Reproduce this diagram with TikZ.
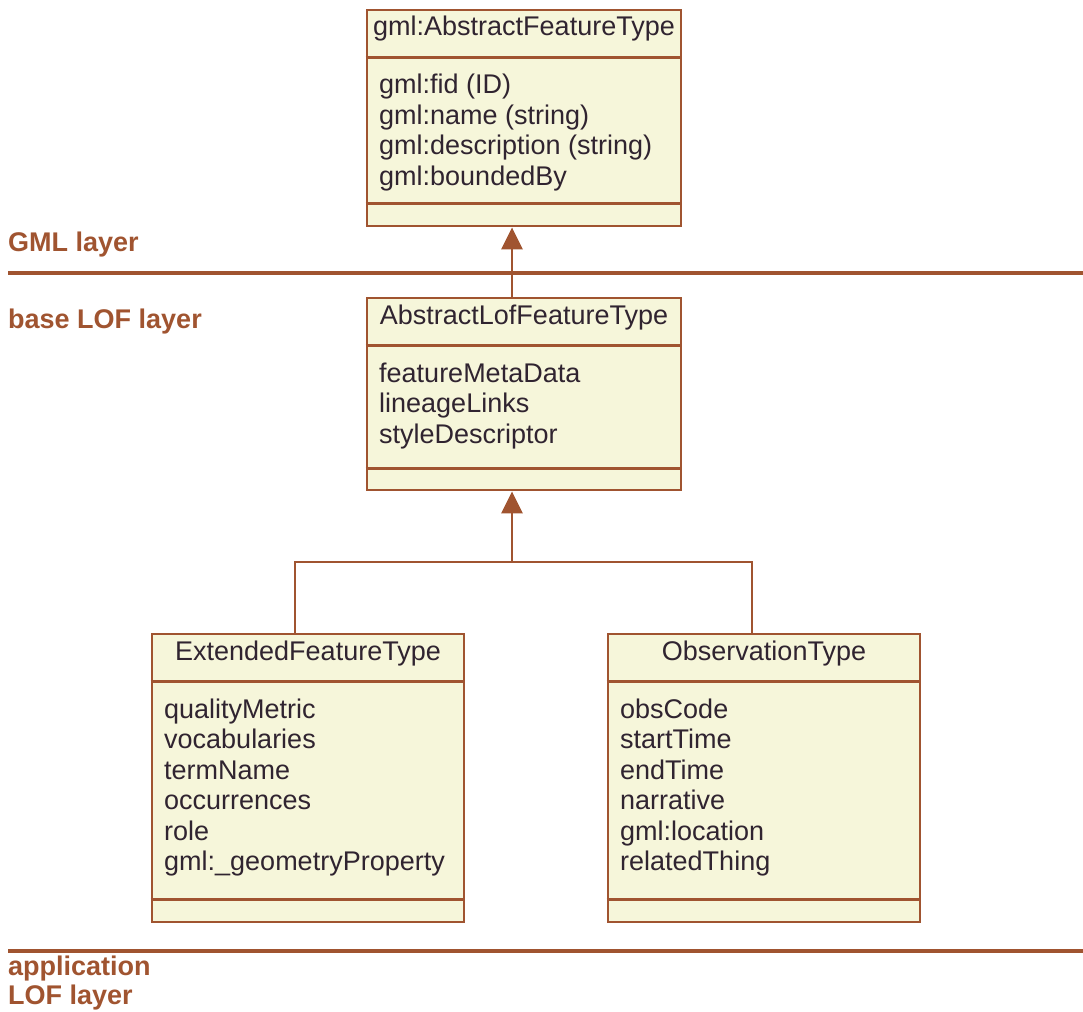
\documentclass[tikz,border=0pt]{standalone}
\usepackage{fontspec}
\setmainfont{Liberation Sans}
\usetikzlibrary{arrows.meta}
\definecolor{umlbrown}{RGB}{160,84,48}
\definecolor{umlfill}{RGB}{246,246,218}
\definecolor{umltext}{RGB}{48,36,48}
\tikzset{
  umlbox/.style={draw=umlbrown, fill=umlfill, line width=2.8pt, rectangle, inner sep=0pt},
  sep/.style={draw=umlbrown, line width=2.8pt},
  txt/.style={inner sep=0pt, text=umltext, font=\fontsize{27}{30.5}\selectfont},
  attr/.style={txt, anchor=base west},
  ttl/.style={txt, anchor=base},
  layer/.style={inner sep=0pt, anchor=base west, text=umlbrown, font=\fontsize{27}{30.5}\selectfont\bfseries},
  layerline/.style={draw=umlbrown, line width=3.5pt},
  conn/.style={draw=umlbrown, line width=2.8pt},
  inh/.style={conn, -{Triangle[width=21pt,length=22pt]}},
}
\begin{document}
\begin{tikzpicture}[x=1pt,y=-1pt]
\useasboundingbox (0,0) rectangle (1083,1011);
% boxes
\node[umlbox, minimum width=314pt, minimum height=216pt] (afeat) at (524,118) {};
\node[umlbox, minimum width=314pt, minimum height=192pt] (lof) at (524,394) {};
\node[umlbox, minimum width=312pt, minimum height=288pt] (ext) at (308,778) {};
\node[umlbox, minimum width=312pt, minimum height=288pt] (obs) at (764,778) {};
% separators
\draw[sep] ([yshift=-49pt]afeat.north west) -- ([yshift=-49pt]afeat.north east);
\draw[sep] ([yshift=24pt]afeat.south west) -- ([yshift=24pt]afeat.south east);
\draw[sep] ([yshift=-49pt]lof.north west) -- ([yshift=-49pt]lof.north east);
\draw[sep] ([yshift=23pt]lof.south west) -- ([yshift=23pt]lof.south east);
\draw[sep] ([yshift=-49pt]ext.north west) -- ([yshift=-49pt]ext.north east);
\draw[sep] ([yshift=24pt]ext.south west) -- ([yshift=24pt]ext.south east);
\draw[sep] ([yshift=-49pt]obs.north west) -- ([yshift=-49pt]obs.north east);
\draw[sep] ([yshift=24pt]obs.south west) -- ([yshift=24pt]obs.south east);
% titles
\node[ttl] (t1) at (524,36) {gml:AbstractFeatureType};
\node[ttl] (t2) at (524,324) {AbstractLofFeatureType};
\node[ttl] (t3) at (308,660) {ExtendedFeatureType};
\node[ttl] (t4) at (764,660) {ObservationType};
% attributes
\foreach \t [count=\i] in {gml:fid (ID), gml:name (string), gml:description (string), gml:boundedBy}
  \node[attr] (a1-\i) at (379,{94+30.5*(\i-1)}) {\t};
\foreach \t [count=\i] in {featureMetaData, lineageLinks, styleDescriptor}
  \node[attr] (a2-\i) at (379,{382+30.5*(\i-1)}) {\t};
\foreach \t [count=\i] in {qualityMetric, vocabularies, termName, occurrences, role, gml:\_geometryProperty}
  \node[attr] (a3-\i) at (164,{718+30.5*(\i-1)}) {\t};
\foreach \t [count=\i] in {obsCode, startTime, endTime, narrative, gml:location, relatedThing}
  \node[attr] (a4-\i) at (620,{718+30.5*(\i-1)}) {\t};
% layers
\coordinate (l1a) at (8,273); \coordinate (l1b) at (1083,273);
\coordinate (l2a) at (8,951); \coordinate (l2b) at (1083,951);
\draw[layerline] (l1a) -- (l1b);
\draw[layerline] (l2a) -- (l2b);
\node[layer] (gmll) at (8,251) {GML layer};
\node[layer] (basel) at (8,328) {base LOF layer};
\node[layer] (appl1) at (8,975) {application};
\node[layer] (appl2) at (8,1004) {LOF layer};
% connectors
\draw[inh] ([xshift=-12pt]lof.north) -- ([xshift=-12pt]afeat.south);
\coordinate (j) at (512,562);
\draw[conn] ([xshift=-13pt]ext.north) |- (j) -| ([xshift=-12pt]obs.north);
\draw[inh] (j) -- ([xshift=-12pt]lof.south);
\end{tikzpicture}
\end{document}
